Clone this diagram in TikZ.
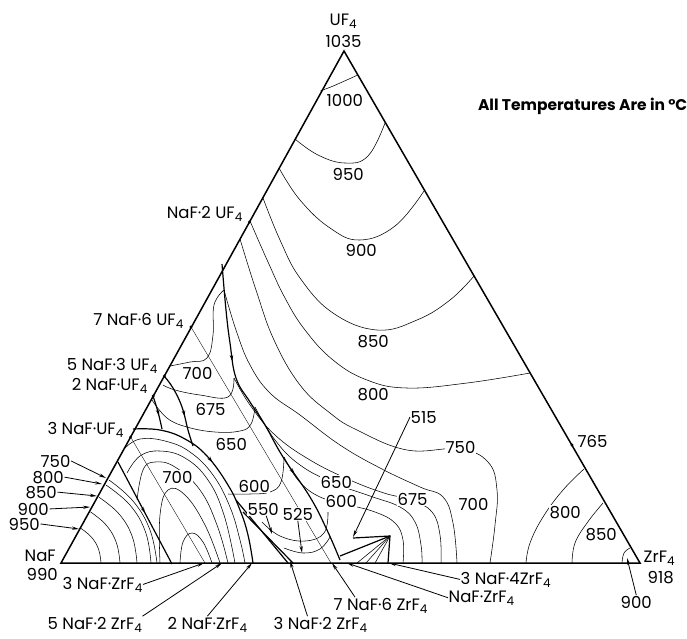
\documentclass[tikz,border=0pt]{standalone}
\usepackage{fontspec}
\setmainfont{Poppins}
\usetikzlibrary{arrows.meta,decorations.markings}
\newcommand{\fsub}[1]{\raisebox{-3pt}{\fontsize{12}{12}\selectfont #1}}
\begin{document}
\begin{tikzpicture}[x=1pt,y=-1pt,
  edge/.style={line width=1.5pt,line join=miter},
  bnd/.style={line width=1.2pt},
  iso/.style={line width=0.55pt},
  joinl/.style={line width=0.35pt},
  lbl/.style={font=\fontsize{16.5}{17}\selectfont, inner sep=0.5pt, anchor=base west},
  tl/.style={lbl,fill=white},
  ptr/.style={line width=0.8pt,-{Stealth[length=7pt,width=3.2pt]}},
  pdot/.style={circle,fill,inner sep=0pt,minimum size=3.2pt},
  marr/.style={postaction={decorate,decoration={markings,mark=at position #1 with {\arrow{Stealth[length=6pt,width=3.5pt]}}}}}]
\useasboundingbox (0,0) rectangle (687,638);
\coordinate (U) at (344,51); \coordinate (N) at (61,563); \coordinate (Z) at (640,563);
% ---- isotherms UF4 field
\draw[iso] plot[smooth,tension=0.7] coordinates {(320.7,90.7)(330,87.3)(343,81.7)(357.7,75)};
\draw[iso] plot[smooth,tension=0.7] coordinates {(295,139)(318,155)(345,163)(368,156)(385,123)};
\draw[iso] plot[smooth,tension=0.7] coordinates {(279,168)(300,200)(330,228)(360,240)(395,226)(424,191)};
\draw[iso] plot[smooth,tension=0.7] coordinates {(263,198)(280,240)(300,278)(333,313)(377,330)(417,320)(450,300)(474,276)};
\draw[iso] plot[smooth,tension=0.7] coordinates {(250,221)(268,262)(285,298)(305,330)(333,360)(367,380)(407,388)(467,383)(530,373)};
\draw[iso] plot[smooth,tension=0.7] coordinates {(240,239)(256,290)(274,340)(300,385)(330,413)(357,430)(407,450)(459,449)(488,462)(497,490)(495,525)(490,563)};
\draw[iso] plot[smooth,tension=0.7] coordinates {(224,290)(236,330)(250,365)(270,393)(300,415)(340,445)(380,468)(420,487)(443,497)(453,523)(457,563)};
\draw[iso] plot[smooth,tension=0.7] coordinates {(234,378)(250,405)(275,435)(310,460)(350,480)(384,493)(411,500)(432,512)(440,535)(441,563)};
\draw[iso] plot[smooth,tension=0.7] coordinates {(255,407)(275,440)(300,465)(334,483)(370,496)(400,507)(415,522)(421,545)(422,563)};
\draw[iso] plot[smooth,tension=0.7] coordinates {(284,457)(298,480)(318,496)(345,504)(375,512)(395,523)(403,540)(403,563)};
% ---- ZrF4 corner
\draw[iso] plot[smooth,tension=0.7] coordinates {(584,469)(563,490)(543,517)(530,543)(526,563)};
\draw[iso] plot[smooth,tension=0.7] coordinates {(603,503)(587,523)(575,543)(572,563)};
\draw[iso] plot[smooth,tension=0.7] coordinates {(630,548)(624,553)(622,563)};
% ---- NaF corner
\draw[iso] plot[smooth,tension=0.7] coordinates {(81,528.4)(91.6,537.3)(98.6,549.3)(101,563)};
\draw[iso] plot[smooth,tension=0.7] coordinates {(90.5,511.9)(106.2,525.1)(116.4,542.8)(120,563)};
\draw[iso] plot[smooth,tension=0.7] coordinates {(99,497.2)(119.2,514.1)(132.4,537)(137,563)};
\draw[iso] plot[smooth,tension=0.7] coordinates {(106,485)(130,505.1)(145.6,532.2)(151,563)};
\draw[iso] plot[smooth,tension=0.7] coordinates {(109,480)(133,501)(150,530)(157,563)};
\draw[bnd,marr=0.5] (118,462) -- (172,564);
% ---- 3NaF.UF4 field
\draw[bnd,marr=0.45] plot[smooth,tension=0.7] coordinates {(133,429)(160,430)(185,439)(207,456)(228,485)(240,510)(248,535)(253,563)};
\draw[joinl] (130.6,437) -- (205,563);
\draw[iso] plot[smooth,tension=0.7] coordinates {(125,448)(140,439)(165,441)(190,452)(213,475)(230,507)(240,540)(245,563)};
\draw[iso] plot[smooth,tension=0.7] coordinates {(127,473)(140,456)(160,451)(185,458)(208,480)(224,515)(235,563)};
\draw[iso] plot[smooth,tension=0.7] coordinates {(137,500)(143,470)(155,462)(175,467)(200,490)(217,525)(228,563)};
\draw[iso] plot[smooth,tension=0.7] coordinates {(160,563)(160,515)(168,490)(185,495)(205,525)(220,563)};
\draw[iso] plot[smooth,tension=0.7] coordinates {(180,563)(183,542)(192,533)(203,542)(212,563)};
\draw[bnd,marr=0.6] plot[smooth,tension=0.7] coordinates {(164,376)(173,388)(182,407)(188,430)(193,446)};
\draw[bnd,marr=0.6] plot[smooth,tension=0.7] coordinates {(153,396)(158,412)(162,429)};
% ---- 7NaF.6UF4 field
\draw[joinl] (191,327) -- (331,563);
\draw[iso] plot[smooth,tension=0.7] coordinates {(170,366)(190,362)(207,358)(213,335)(214,305)(224,290)};
\draw[iso] plot[smooth,tension=0.7] coordinates {(163,385)(175,390)(200,395)(228,397)(234,378)};
\draw[iso] plot[smooth,tension=0.7] coordinates {(152,400)(167,418)(187,427)(215,432)(240,431)(251,424)(255,407)};
\draw[iso] plot[smooth,tension=0.7] coordinates {(228,494)(250,494)(270,492)(281,482)(284,457)};
\draw[bnd,marr=0.3,marr=0.7] plot[smooth,tension=0.7] coordinates {(222,264)(226,310)(230,343)(236,378)(250,402)(265,425)(283,457)(310,497)(327,530)(340,560)};
% ---- bottom centre
\draw[bnd] (236,500) -- (288,563);
\draw[bnd] (243,512) -- (293,563);
\draw[iso] plot[smooth,tension=0.7] coordinates {(262,522)(280,536)(305,541)(324,533)(328,512)};
\draw[iso] plot[smooth,tension=0.7] coordinates {(284,548)(303,553)(320,549)(330,537)};
% ---- eutectic
\draw[bnd] (353,538) -- (390,536) -- (388,563);
\draw[bnd] (340,556) -- (390,536);
\draw[iso] (390,536) -- (357,563); \draw[iso] (390,536) -- (366,563); \draw[iso] (390,536) -- (375,563);
% ---- triangle
\draw[edge] (U) -- (N) -- (Z) -- cycle;
% ---- compound dots
\node[pdot] (d1) at (249.5,222) {};
\node[pdot] (d2) at (191,327) {};
\node[pdot] (d3) at (164.4,376) {};
\node[pdot] (d4) at (153.3,396) {};
\node[pdot] (d5) at (130.6,437) {};
\node[pdot] (d6) at (572,445) {};
% ---- labels
\node[lbl] (lU) at (329,25) {UF\fsub{4}};
\node[lbl] (lU2) at (325,47) {1035};
\node[lbl] (lN) at (24,561) {NaF};
\node[lbl] (lN2) at (26,580) {990};
\node[lbl] (lZ) at (643,562) {ZrF\fsub{4}};
\node[lbl] (lZ2) at (647,583) {918};
\node[lbl,anchor=base east,font=\bfseries\fontsize{15.5}{16}\selectfont] (all) at (688,110) {All Temperatures Are in °C};
\node[tl] (t1000) at (326,106) {1000};
\node[tl] (t950) at (332,180) {950};
\node[tl] (t900) at (345,256) {900};
\node[tl] (t850) at (357,347) {850};
\node[tl] (t800) at (357,400) {800};
\node[tl] (t750) at (445,453) {750};
\node[tl] (t700r) at (458,510) {700};
\node[tl] (t675r) at (397,505) {675};
\node[tl] (t650r) at (320,488) {650};
\node[tl] (t600r) at (325,507) {600};
\node[tl] (t700a) at (182,379) {700};
\node[tl] (t675a) at (195,415) {675};
\node[tl] (t650a) at (215,450) {650};
\node[tl] (t700b) at (162,483) {700};
\node[tl] (t600a) at (238,492) {600};
\node[tl] (t550) at (247,515) {550};
\node[tl] (t525) at (282,520) {525};
\node[tl] (t800z) at (549,518) {800};
\node[tl] (t850z) at (585,540) {850};
\node[lbl] (t765) at (577,447) {765};
\node[lbl] (t515) at (410,423) {515};
\node[lbl] (t900z) at (620,608) {900};
\node[lbl,anchor=base east] (c1) at (243,218) {NaF·2 UF\fsub{4}};
\node[lbl,anchor=base east] (c2) at (184,325) {7 NaF·6 UF\fsub{4}};
\node[lbl,anchor=base east] (c3) at (158,370) {5 NaF·3 UF\fsub{4}};
\node[lbl,anchor=base east] (c4) at (148,390) {2 NaF·UF\fsub{4}};
\node[lbl,anchor=base east] (c5) at (124,434) {3 NaF·UF\fsub{4}};
\node[lbl] (n750) at (40,467) {750};
\node[lbl] (n800) at (32,483) {800};
\node[lbl] (n850) at (25,498) {850};
\node[lbl] (n900) at (17,515) {900};
\node[lbl] (n950) at (8,530) {950};
\node[lbl] (b1) at (62,589) {3 NaF·ZrF\fsub{4}};
\node[lbl] (b2) at (47,629) {5 NaF·2 ZrF\fsub{4}};
\node[lbl] (b3) at (167,629) {2 NaF·ZrF\fsub{4}};
\node[lbl] (b4) at (273,629) {3 NaF·2 ZrF\fsub{4}};
\node[lbl] (b5) at (333,610) {7 NaF·6 ZrF\fsub{4}};
\node[lbl] (b6) at (448,602) {NaF·ZrF\fsub{4}};
\node[lbl] (b7) at (460,584) {3 NaF·4ZrF\fsub{4}};
% ---- pointers
\coordinate (p750) at (106,478); \coordinate (p800) at (102,484); \coordinate (p850) at (97,496);
\coordinate (p900) at (90,507); \coordinate (p950) at (79,529);
\draw[ptr] (n750.east) -- (p750);
\draw[ptr] (n800.east) -- (p800);
\draw[ptr] (n850.east) -- (p850);
\draw[ptr] (n900.east) -- (p900);
\draw[ptr] (n950.east) -- (p950);
\coordinate (q1) at (204,563); \coordinate (q2) at (222,563); \coordinate (q3) at (252,563);
\coordinate (q4) at (290,561); \coordinate (q5) at (332,563); \coordinate (q6) at (347,563);
\coordinate (q7) at (389,563); \coordinate (q8) at (627,558); \coordinate (q9) at (353,537);
\coordinate (q10) at (272,534); \coordinate (q11) at (302,553);
\draw[ptr] (b1.east) -- (q1);
\draw[ptr] (b2.north east) -- (q2);
\draw[ptr] (b3.north) -- (q3);
\draw[ptr] (b4.north) ++(-13,0) -- (q4);
\draw[ptr] (b5.north west) ++(22,0) -- (q5);
\draw[ptr] (b6.west) -- (q6);
\draw[ptr] (b7.west) -- (q7);
\draw[ptr] (t900z.north) -- (q8);
\draw[ptr] (t515.west) -- (q9);
\draw[ptr] (t550.south) ++(3,0) -- (q10);
\draw[ptr] (t525.south) -- (q11);
\end{tikzpicture}
\end{document}
